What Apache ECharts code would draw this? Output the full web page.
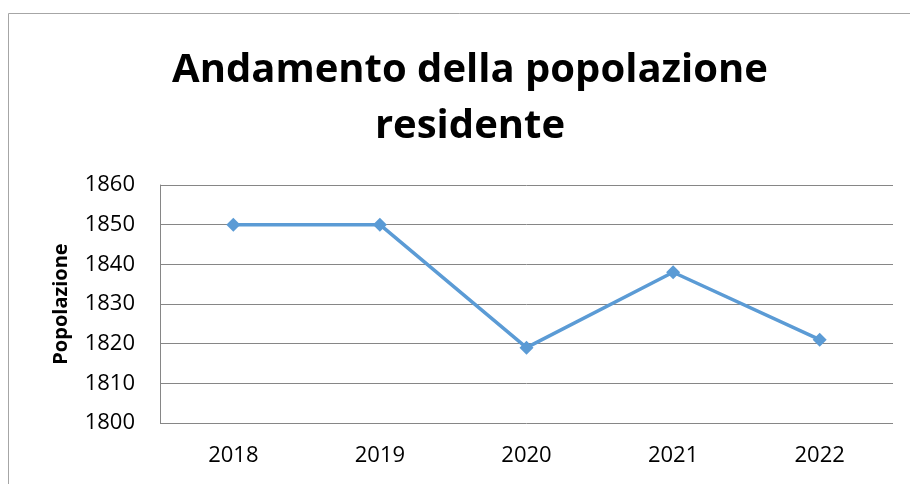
<!DOCTYPE html>
<html lang="it">
<head>
    <meta charset="UTF-8">
    <script src="https://cdn.jsdelivr.net/npm/echarts@6.0.0/dist/echarts.min.js"></script>
    <style>
        body { margin: 0; background: #fff; }
    </style>
</head>
<body>
<div id="popChart" style="width: 910px;height:484px;"></div>
<script type="text/javascript">

    var years = ["2018", "2019", "2020", "2021", "2022"];
    var residents = [1850, 1850, 1819, 1838, 1821];
    var yTicks = { min: 1800, max: 1860, step: 10 };

    var chart = echarts.init(document.getElementById("popChart"));

    var option = {
        backgroundColor: "#fff",
        animation: false,
        graphic: [{
            type: "rect",
            shape: { x: 8.5, y: 13.5, width: 1000, height: 1000 },
            style: { fill: "none", stroke: "#a6a6a6", lineWidth: 1 },
            silent: true
        }],
        title: {
            text: "Andamento della popolazione\nresidente",
            left: 465,
            top: 38,
            textAlign: "center",
            textStyle: {
                fontFamily: "Open Sans",
                fontWeight: "bold",
                fontSize: 40,
                lineHeight: 56,
                color: "#000"
            }
        },
        grid: { left: 160, right: 17, top: 185, bottom: 61 },
        xAxis: {
            type: "category",
            data: years,
            boundaryGap: true,
            axisLine: { show: false },
            axisTick: { show: false },
            axisLabel: {
                fontFamily: "Open Sans",
                fontSize: 22,
                color: "#000",
                margin: 22
            }
        },
        yAxis: {
            type: "value",
            min: yTicks.min,
            max: yTicks.max,
            interval: yTicks.step,
            name: "Popolazione",
            nameLocation: "middle",
            nameGap: 89,
            nameTextStyle: {
                fontFamily: "Open Sans",
                fontWeight: "bold",
                fontSize: 20,
                color: "#000"
            },
            axisLine: { show: true, lineStyle: { color: "#868686", width: 1 } },
            axisTick: { show: false },
            axisLabel: {
                fontFamily: "Open Sans",
                fontSize: 22,
                color: "#000",
                margin: 25,
                formatter: function (v) { return String(v); }
            },
            splitLine: { lineStyle: { color: "#868686", width: 1 } }
        },
        series: [{
            type: "line",
            data: residents,
            symbol: "diamond",
            symbolSize: 14,
            itemStyle: { color: "#5b9bd5" },
            lineStyle: { color: "#5b9bd5", width: 3.5 }
        }]
    };

    chart.setOption(option);
</script>
</body>
</html>
